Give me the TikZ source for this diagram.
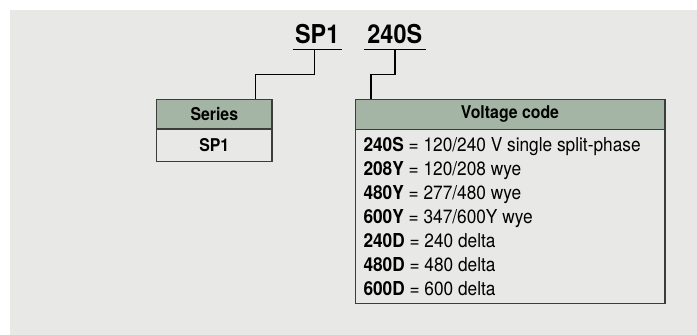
\documentclass[tikz,border=0pt]{standalone}
\usepackage{fontspec}
\setmainfont{TeX Gyre Heros}[FakeStretch=0.9]
\definecolor{bg}{HTML}{E8E8E6}
\definecolor{hdr}{HTML}{A5B5A5}
\definecolor{edge}{HTML}{3C3C3C}
\begin{document}
\begin{tikzpicture}[x=1pt,y=-1pt,
  boxline/.style={draw=edge,line width=1.2pt},
  link/.style={draw=black,line width=1.4pt},
  hdrtext/.style={font=\fontsize{17.6}{19}\selectfont\bfseries,anchor=center,inner sep=0pt},
  rowtext/.style={font=\fontsize{19.2}{21}\selectfont,anchor=base west,inner sep=0pt},
  titletext/.style={font=\fontsize{26}{28}\selectfont\bfseries,anchor=base,inner sep=0pt}]
\useasboundingbox (0,0) rectangle (697,335);
\fill[bg] (10,10) rectangle (697,335);
% title
\node[titletext] (t1) at (317.2,43) {SP1};
\node[titletext] (t2) at (394.8,43) {240S};
\coordinate (u1a) at (292.7,49.3);
\coordinate (u1b) at (341.7,49.3);
\coordinate (u2a) at (363.7,49.3);
\coordinate (u2b) at (426,49.3);
\draw[link] (u1a) -- (u1b);
\draw[link] (u2a) -- (u2b);
% series box
\fill[hdr] (156.7,99.3) rectangle (272,129);
\draw[boxline] (156.7,99.3) rectangle (272,161.7);
\draw[boxline] (156.7,129) -- (272,129);
\node[hdrtext] (sh) at (214.3,114.5) {Series};
\node[hdrtext] (sb) at (214.3,145.5) {SP1};
% voltage box
\fill[hdr] (355.3,99.3) rectangle (665,129.3);
\draw[boxline] (355.3,99.3) rectangle (665,303.3);
\draw[boxline] (355.3,129.3) -- (665,129.3);
\node[hdrtext] (vh) at (510,114.5) {Voltage code};
\foreach \y/\k/\t [count=\i] in {151.5/240S/120\slash240 V single split-phase,
  175.5/208Y/120\slash208 wye, 199.5/480Y/277\slash480 wye, 223.5/600Y/347\slash600Y wye,
  247.5/240D/240 delta, 271.5/480D/480 delta, 295.5/600D/600 delta}
  \node[rowtext] (r\i) at (363.3,\y) {\textbf{\k} = \t};
% connectors
\coordinate (c1) at (314.3,49.3);
\coordinate (c2) at (255.3,99.3);
\draw[link] (c1) |- (285,74.3) -| (c2);
\coordinate (c3) at (395,49.3);
\coordinate (c4) at (371,99.3);
\draw[link] (c3) |- (383,74.3) -| (c4);
\end{tikzpicture}
\end{document}
